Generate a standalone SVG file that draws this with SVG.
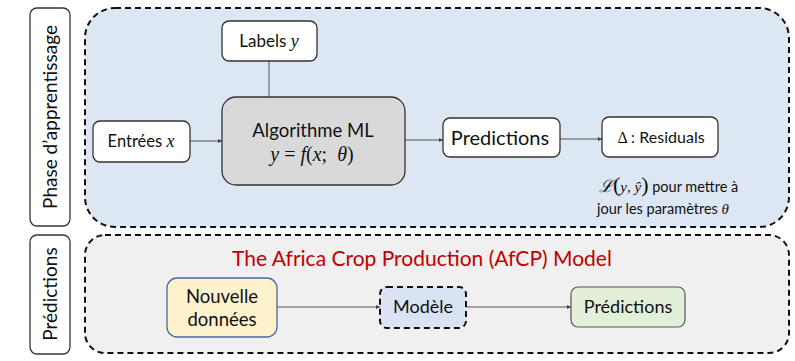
<svg xmlns="http://www.w3.org/2000/svg" width="795" height="361" viewBox="0 0 795 361">
<style>
.t{font-family:Lato,"Open Sans","Liberation Sans",sans-serif;fill:#111;text-anchor:middle}
.m{font-family:"Liberation Serif","DejaVu Serif",serif;font-style:italic}
.box{fill:#fff;stroke:#333;stroke-width:1.3}
.ln{stroke:#555;stroke-width:1;fill:none}
.ar{stroke:#555;stroke-width:1;fill:none;marker-end:url(#a)}
</style>
<defs>
<marker id="a" viewBox="0 0 6 6" refX="6" refY="3" markerWidth="4" markerHeight="4" orient="auto" markerUnits="userSpaceOnUse"><path d="M0,0 L6,3 L0,6 z" fill="#444"/></marker>
</defs>
<g id="phase-label">
<rect x="30" y="8" width="40" height="218" rx="7" class="box"/>
<text class="t" font-size="19" transform="translate(57,117) rotate(-90)">Phase d’apprentissage</text>
</g>
<g id="pred-label">
<rect x="30" y="235" width="40" height="119" rx="7" class="box"/>
<text class="t" font-size="19" transform="translate(57,294) rotate(-90)">Prédictions</text>
</g>
<g id="training-region">
<rect x="85" y="8" width="704" height="219" rx="30" fill="#dce7f3" stroke="#111" stroke-width="2" stroke-dasharray="6,4"/>
</g>
<g id="prediction-region">
<rect x="85" y="235" width="704" height="118" rx="20" fill="#f0f0f0" stroke="#111" stroke-width="2" stroke-dasharray="6,4"/>
<text class="t" font-size="21" x="422" y="266" style="fill:#c00000">The Africa Crop Production (AfCP) Model</text>
</g>
<g id="connectors">
<line class="ln" x1="269" y1="61" x2="269" y2="97"/>
<line class="ar" x1="190" y1="141" x2="222" y2="141"/>
<line class="ar" x1="405" y1="140" x2="443" y2="140"/>
<line class="ar" x1="560" y1="139" x2="602" y2="139"/>
<line class="ar" x1="277" y1="307" x2="380" y2="307"/>
<line class="ar" x1="466" y1="307" x2="571" y2="307"/>
</g>
<g id="labels-y">
<rect x="222" y="21" width="95" height="40" rx="7" class="box"/>
<text class="t" font-size="17" x="269" y="47">Labels <tspan class="m" font-size="18">y</tspan></text>
</g>
<g id="entrees">
<rect x="93" y="121" width="97" height="41" rx="7" class="box"/>
<text class="t" font-size="16.5" x="141" y="147">Entrées <tspan class="m" font-size="18">x</tspan></text>
</g>
<g id="algo">
<rect x="222" y="97" width="183" height="88" rx="14" fill="#d9d9d9" stroke="#333" stroke-width="1.3"/>
<text class="t" font-size="18.5" x="313" y="137">Algorithme ML</text>
<text class="t m" font-size="20" x="312" y="161" xml:space="preserve">y <tspan font-style="normal">=</tspan> f<tspan font-style="normal">(</tspan>x<tspan font-style="normal">;</tspan>  θ<tspan font-style="normal">)</tspan></text>
</g>
<g id="predictions">
<rect x="443" y="118" width="117" height="39" rx="7" class="box"/>
<text class="t" font-size="20" x="500" y="145">Predictions</text>
</g>
<g id="residuals">
<rect x="602" y="117" width="116" height="40" rx="7" class="box"/>
<text class="t" font-size="16" x="661" y="143"><tspan font-family="Liberation Serif,serif" font-size="16">Δ :</tspan> Residuals</text>
</g>
<g id="loss-note">
<text class="t" font-size="14.5" x="599" y="192" style="text-anchor:start"><tspan class="m" font-size="17">ℒ</tspan><tspan font-family="Liberation Serif,serif" font-size="22">(</tspan><tspan class="m" font-size="15">y</tspan><tspan font-family="Liberation Serif,serif" font-size="15">, </tspan><tspan class="m" font-size="15">ŷ</tspan><tspan font-family="Liberation Serif,serif" font-size="22">)</tspan> pour mettre à</text>
<text class="t" font-size="14.5" x="597" y="214" style="text-anchor:start">jour les paramètres <tspan class="m" font-size="15">θ</tspan></text>
</g>
<g id="nouvelle">
<rect x="167" y="278" width="110" height="59" rx="10" fill="#fdf2cc" stroke="#4a6a9a" stroke-width="1.3"/>
<text class="t" font-size="18.5" x="222" y="303">Nouvelle</text>
<text class="t" font-size="18.5" x="222" y="326">données</text>
</g>
<g id="modele">
<rect x="380" y="287" width="86" height="41" rx="7" fill="#dae3f3" stroke="#111" stroke-width="2" stroke-dasharray="6,4"/>
<text class="t" font-size="18" x="423" y="313">Modèle</text>
</g>
<g id="predictions2">
<rect x="571" y="287" width="114" height="40" rx="7" fill="#e2efd9" stroke="#555" stroke-width="1.2"/>
<text class="t" font-size="18" x="628" y="313">Prédictions</text>
</g>
</svg>
